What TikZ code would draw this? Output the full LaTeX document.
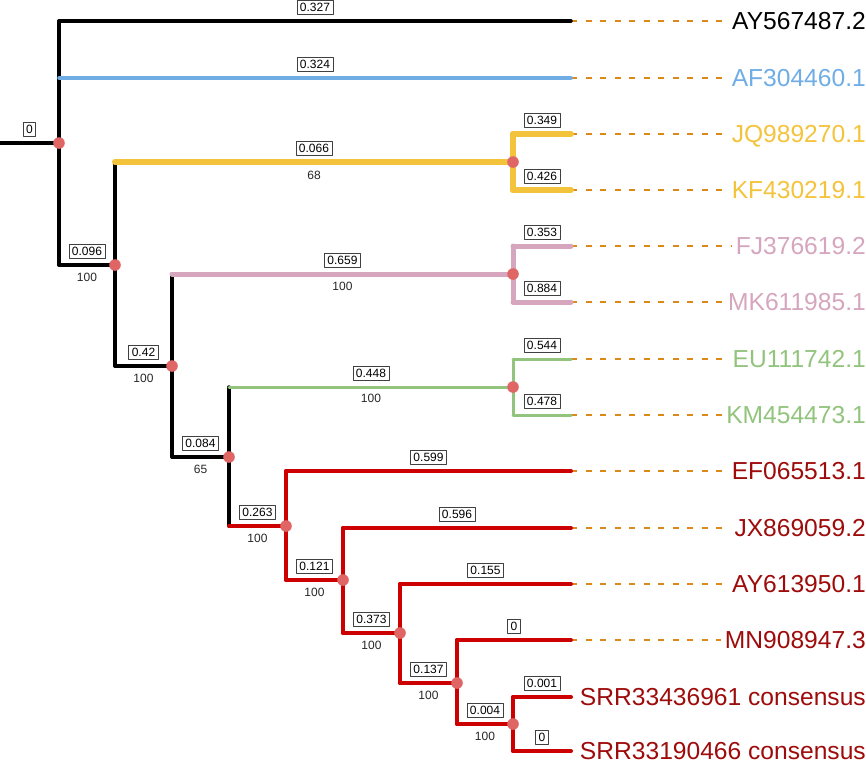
\documentclass[tikz,border=0pt]{standalone}
\usepackage{fontspec}
\setmainfont{Liberation Sans}
\definecolor{cladeblue}{HTML}{6FADE4}
\definecolor{cladeyellow}{HTML}{F4C33C}
\definecolor{cladepink}{HTML}{D5A6BD}
\definecolor{cladegreen}{HTML}{93C47D}
\definecolor{cladered}{HTML}{CC0000}
\definecolor{tipred}{HTML}{9E0B0B}
\definecolor{dotred}{HTML}{E06666}
\definecolor{guide}{HTML}{DB8A1A}

\begin{document}
\begin{tikzpicture}[x=1pt, y=-1pt,
    br/.style={line width=3.5pt, line cap=round, line join=round},
    guideline/.style={guide, line width=1.6pt, dash pattern=on 6pt off 8.5pt},
    blen/.style={draw=black!75, text=black, line width=0.7pt, inner xsep=3pt, inner ysep=3pt,
        text height=8.6pt, text depth=0pt, font=\fontsize{12}{12}\selectfont},
    supp/.style={inner sep=0pt, text=black!85, font=\fontsize{12}{12}\selectfont},
    leaf/.style={anchor=east, inner sep=0pt, text height=17.4pt, text depth=0pt,
        font=\fontsize{24.6}{24.6}\selectfont}]
    \useasboundingbox (0,0) rectangle (866,761);

    % internal nodes
    \coordinate (stub) at (0,143);
    \coordinate (root) at (59,143);
    \coordinate (n1) at (115,265);
    \coordinate (n2) at (172,366);
    \coordinate (n3) at (229,457);
    \coordinate (n4) at (286,526);
    \coordinate (n5) at (343,580);
    \coordinate (n6) at (400,633);
    \coordinate (n7) at (457,683);
    \coordinate (n8) at (513,724);
    \coordinate (cY) at (513,162);
    \coordinate (cP) at (513,274);
    \coordinate (cG) at (513,387);

    % tips
    \coordinate (tAY567) at (571,21);
    \coordinate (tAF304) at (571,78);
    \coordinate (tJQ989) at (571,134);
    \coordinate (tKF430) at (571,190);
    \coordinate (tFJ376) at (571,246);
    \coordinate (tMK611) at (571,302);
    \coordinate (tEU111) at (571,359);
    \coordinate (tKM454) at (571,415);
    \coordinate (tEF065) at (571,471);
    \coordinate (tJX869) at (571,528);
    \coordinate (tAY613) at (571,584);
    \coordinate (tMN908) at (571,640);
    \coordinate (tSRR364) at (571,697);
    \coordinate (tSRR190) at (571,751);

    % tip labels
    \node[leaf, text=black] (lAY567) at (866,21) {AY567487.2};
    \node[leaf, text=cladeblue] (lAF304) at (866,78) {AF304460.1};
    \node[leaf, text=cladeyellow] (lJQ989) at (866,134) {JQ989270.1};
    \node[leaf, text=cladeyellow] (lKF430) at (866,190) {KF430219.1};
    \node[leaf, text=cladepink] (lFJ376) at (866,246) {FJ376619.2};
    \node[leaf, text=cladepink] (lMK611) at (866,302) {MK611985.1};
    \node[leaf, text=cladegreen] (lEU111) at (866,359) {EU111742.1};
    \node[leaf, text=cladegreen] (lKM454) at (866,415) {KM454473.1};
    \node[leaf, text=tipred] (lEF065) at (866,471) {EF065513.1};
    \node[leaf, text=tipred] (lJX869) at (866,528) {JX869059.2};
    \node[leaf, text=tipred] (lAY613) at (866,584) {AY613950.1};
    \node[leaf, text=tipred] (lMN908) at (866,640) {MN908947.3};
    \node[leaf, text=tipred] (lSRR364) at (866,697) {SRR33436961 consensus};
    \node[leaf, text=tipred] (lSRR190) at (866,751) {SRR33190466 consensus};

    % dashed guides
    \foreach \t in {AY567,AF304,JQ989,KF430,FJ376,MK611,EU111,KM454,EF065,JX869,AY613,MN908}
        \draw[guideline] (t\t) -- ([xshift=-4pt]l\t.west);

    % root
    \draw[br] (stub) -- (root) node[blen, midway, above=6pt] (bstub) {0};
    \draw[br] (root |- tAY567) -- (root |- n1);
    \draw[br] (root |- tAY567) -- (tAY567) node[blen, midway, above=6pt] (bAY567) {0.327};
    \draw[br, cladeblue] (root |- tAF304) -- (tAF304) node[blen, midway, above=6pt] (bAF304) {0.324};
    \draw[br] (root |- n1) -- (n1) node[blen, midway, above=6pt] (bn1) {0.096}
        node[supp, midway, below=6pt] (sn1) {100};

    % n1 and yellow clade
    \draw[br] (n1 |- cY) -- (n1 |- n2);
    \draw[br, line width=6pt, cladeyellow] (n1 |- cY) -- (cY) node[blen, midway, above=6pt] (bcY) {0.066}
        node[supp, midway, below=6pt] (scY) {68};
    \draw[br, line width=6pt, cladeyellow] (cY |- tJQ989) -- (cY |- tKF430);
    \draw[br, line width=6pt, cladeyellow] (cY |- tJQ989) -- (tJQ989) node[blen, midway, above=6pt] (bJQ989) {0.349};
    \draw[br, line width=6pt, cladeyellow] (cY |- tKF430) -- (tKF430) node[blen, midway, above=6pt] (bKF430) {0.426};
    \draw[br] (n1 |- n2) -- (n2) node[blen, midway, above=6pt] (bn2) {0.42}
        node[supp, midway, below=6pt] (sn2) {100};

    % n2 and pink clade
    \draw[br] (n2 |- cP) -- (n2 |- n3);
    \draw[br, line width=5pt, cladepink] (n2 |- cP) -- (cP) node[blen, midway, above=6pt] (bcP) {0.659}
        node[supp, midway, below=6pt] (scP) {100};
    \draw[br, line width=5pt, cladepink] (cP |- tFJ376) -- (cP |- tMK611);
    \draw[br, line width=5pt, cladepink] (cP |- tFJ376) -- (tFJ376) node[blen, midway, above=6pt] (bFJ376) {0.353};
    \draw[br, line width=5pt, cladepink] (cP |- tMK611) -- (tMK611) node[blen, midway, above=6pt] (bMK611) {0.884};
    \draw[br] (n2 |- n3) -- (n3) node[blen, midway, above=6pt] (bn3) {0.084}
        node[supp, midway, below=6pt] (sn3) {65};

    % n3 and green clade
    \draw[br] (n3 |- cG) -- (n3 |- n4);
    \draw[br, line width=3pt, cladegreen] (n3 |- cG) -- (cG) node[blen, midway, above=6pt] (bcG) {0.448}
        node[supp, midway, below=6pt] (scG) {100};
    \draw[br, line width=3pt, cladegreen] (cG |- tEU111) -- (cG |- tKM454);
    \draw[br, line width=3pt, cladegreen] (cG |- tEU111) -- (tEU111) node[blen, midway, above=6pt] (bEU111) {0.544};
    \draw[br, line width=3pt, cladegreen] (cG |- tKM454) -- (tKM454) node[blen, midway, above=6pt] (bKM454) {0.478};

    % red clade
    \draw[br, line width=4pt, cladered] (n3 |- n4) -- (n4) node[blen, midway, above=6pt] (bn4) {0.263}
        node[supp, midway, below=6pt] (sn4) {100};
    \draw[br, line width=4pt, cladered] (n4 |- tEF065) -- (n4 |- n5);
    \draw[br, line width=4pt, cladered] (n4 |- tEF065) -- (tEF065) node[blen, midway, above=6pt] (bEF065) {0.599};
    \draw[br, line width=4pt, cladered] (n4 |- n5) -- (n5) node[blen, midway, above=6pt] (bn5) {0.121}
        node[supp, midway, below=6pt] (sn5) {100};
    \draw[br, line width=4pt, cladered] (n5 |- tJX869) -- (n5 |- n6);
    \draw[br, line width=4pt, cladered] (n5 |- tJX869) -- (tJX869) node[blen, midway, above=6pt] (bJX869) {0.596};
    \draw[br, line width=4pt, cladered] (n5 |- n6) -- (n6) node[blen, midway, above=6pt] (bn6) {0.373}
        node[supp, midway, below=6pt] (sn6) {100};
    \draw[br, line width=4pt, cladered] (n6 |- tAY613) -- (n6 |- n7);
    \draw[br, line width=4pt, cladered] (n6 |- tAY613) -- (tAY613) node[blen, midway, above=6pt] (bAY613) {0.155};
    \draw[br, line width=4pt, cladered] (n6 |- n7) -- (n7) node[blen, midway, above=6pt] (bn7) {0.137}
        node[supp, midway, below=6pt] (sn7) {100};
    \draw[br, line width=4pt, cladered] (n7 |- tMN908) -- (n7 |- n8);
    \draw[br, line width=4pt, cladered] (n7 |- tMN908) -- (tMN908) node[blen, midway, above=6pt] (bMN908) {0};
    \draw[br, line width=4pt, cladered] (n7 |- n8) -- (n8) node[blen, midway, above=6pt] (bn8) {0.004}
        node[supp, midway, below=6pt] (sn8) {100};
    \draw[br, line width=4pt, cladered] (n8 |- tSRR364) -- (n8 |- tSRR190);
    \draw[br, line width=4pt, cladered] (n8 |- tSRR364) -- (tSRR364) node[blen, midway, above=6pt] (bSRR364) {0.001};
    \draw[br, line width=4pt, cladered] (n8 |- tSRR190) -- (tSRR190) node[blen, midway, above=6pt] (bSRR190) {0};

    % node dots
    \foreach \n in {root,n1,n2,n3,n4,n5,n6,n7,n8,cY,cP,cG}
        \fill[dotred] (\n) circle (5.8pt);
\end{tikzpicture}
\end{document}
